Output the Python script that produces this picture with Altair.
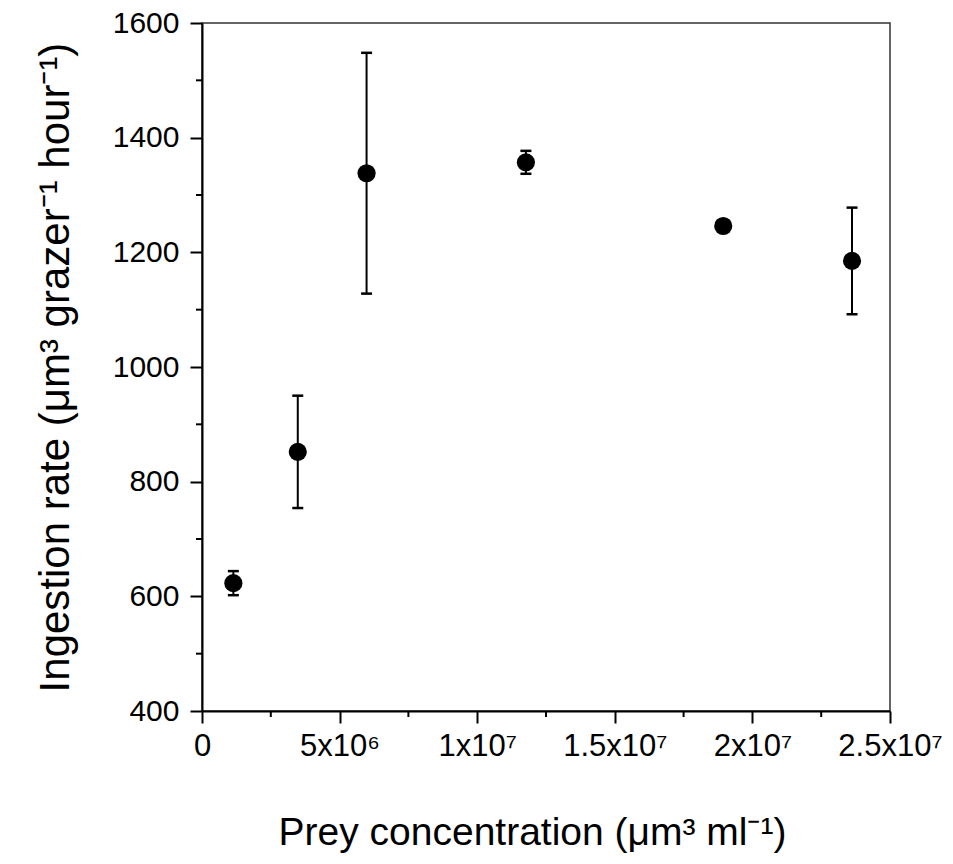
import json
import altair as alt
import pandas as pd

# Data
prey = [1.14e6, 3.48e6, 5.98e6, 11.77e6, 18.94e6, 23.62e6]
ingestion = [623, 852, 1338, 1357, 1246, 1185]
err = [21, 98, 210, 20, 0, 93]

x_ticks = [0, 5000000, 10000000, 15000000, 20000000, 25000000]
x_labels = ["0", "5x10⁶", "1x10⁷", "1.5x10⁷", "2x10⁷", "2.5x10⁷"]
x_minor = [2500000, 7500000, 12500000, 17500000, 22500000]
y_ticks = [400, 600, 800, 1000, 1200, 1400, 1600]
y_minor = [500, 700, 900, 1100, 1300, 1500]

x_title = "Prey concentration (μm³ ml⁻¹)"
y_title = "Ingestion rate (μm³ grazer⁻¹ hour⁻¹)"

FONT = "Liberation Sans"
W = 688
H = 688

df = pd.DataFrame({"prey": prey, "ing": ingestion, "err": err})
df["lo"] = df["ing"] - df["err"]
df["hi"] = df["ing"] + df["err"]

xscale = alt.Scale(domain=[0, 25000000], nice=False, zero=False)
yscale = alt.Scale(domain=[400, 1600], nice=False, zero=False)

label_expr = f"{json.dumps(x_labels)}[indexof({json.dumps(x_ticks)}, datum.value)]"
xaxis = alt.Axis(values=x_ticks, labelExpr=label_expr, title=x_title,
                 titlePadding=52, labelPadding=8, labelOverlap=False,
                 labelFlush=False, labelFontSize=31, titleFontSize=39,
                 titleX=W / 2 - 14)
yaxis = alt.Axis(values=y_ticks, format="d", title=y_title, titlePadding=35,
                 labelPadding=11, labelOverlap=False, labelFontSize=30,
                 titleFontSize=42)

base = alt.Chart(df)

bars = base.mark_rule(color="black", strokeWidth=2).encode(
    x=alt.X("prey:Q", scale=xscale, axis=xaxis),
    y=alt.Y("lo:Q", scale=yscale, axis=yaxis),
    y2="hi:Q",
)
cap_hi = base.mark_rule(color="black", strokeWidth=2.5, xOffset=-5.5, x2Offset=5.5).encode(
    x=alt.X("prey:Q", scale=xscale, axis=xaxis),
    x2="prey:Q",
    y=alt.Y("hi:Q", scale=yscale, axis=yaxis),
)
cap_lo = base.mark_rule(color="black", strokeWidth=2.5, xOffset=-5.5, x2Offset=5.5).encode(
    x=alt.X("prey:Q", scale=xscale, axis=xaxis),
    x2="prey:Q",
    y=alt.Y("lo:Q", scale=yscale, axis=yaxis),
)
points = base.mark_circle(color="black", opacity=1, size=330).encode(
    x=alt.X("prey:Q", scale=xscale, axis=xaxis),
    y=alt.Y("ing:Q", scale=yscale, axis=yaxis),
)

ym = alt.Chart(pd.DataFrame({"v": y_minor})).mark_rule(color="black", strokeWidth=2).encode(
    y=alt.Y("v:Q", scale=yscale, axis=yaxis),
    x=alt.value(-6),
    x2=alt.value(0),
)
xm = alt.Chart(pd.DataFrame({"v": x_minor})).mark_rule(color="black", strokeWidth=2).encode(
    x=alt.X("v:Q", scale=xscale, axis=xaxis),
    y=alt.value(H),
    y2=alt.value(H + 6),
)

chart = (
    alt.layer(bars, cap_hi, cap_lo, points, ym, xm)
    .properties(
        width=W,
        height=H,
        autosize=alt.AutoSizeParams(type="none"),
        padding={"left": 194, "top": 15, "right": 53, "bottom": 150},
    )
    .configure_view(stroke="#333333", strokeWidth=1.5)
    .configure_axis(
        grid=False,
        domainColor="black",
        domainWidth=2,
        tickColor="black",
        tickWidth=2,
        tickSize=12,
        labelFont=FONT,
        labelColor="black",
        titleFont=FONT,
        titleFontWeight="normal",
        titleColor="black",
    )
)

chart.save("out.html", embed_options={"renderer": "svg", "actions": False})
